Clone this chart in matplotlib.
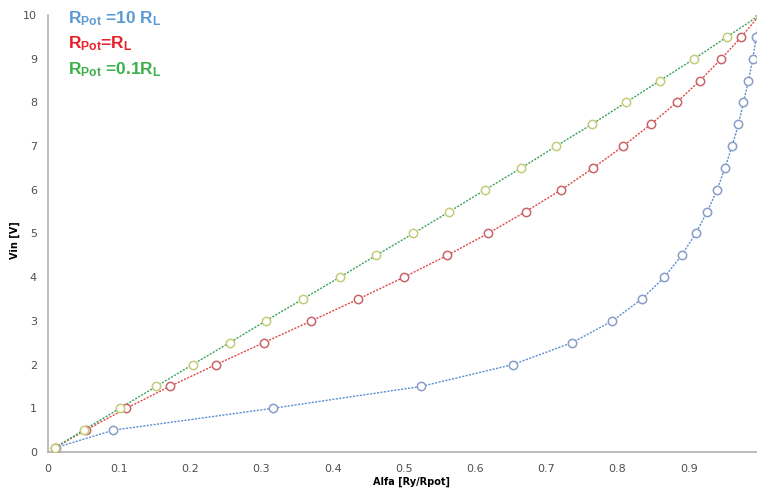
import matplotlib
matplotlib.use("Agg")
from matplotlib import pyplot as plt

# Vin values (same for all three curves)
vin = [0.1, 0.5, 1.0, 1.5, 2.0, 2.5, 3.0, 3.5, 4.0, 4.5, 5.0,
       5.5, 6.0, 6.5, 7.0, 7.5, 8.0, 8.5, 9.0, 9.5, 10.0]
# alfa for each curve
alfa_10 = [0.011, 0.092, 0.316, 0.524, 0.653, 0.736, 0.793, 0.834, 0.866, 0.890, 0.910,
           0.926, 0.940, 0.951, 0.961, 0.970, 0.977, 0.984, 0.990, 0.995, 1.0]
alfa_1 = [0.010, 0.053, 0.110, 0.171, 0.236, 0.303, 0.370, 0.436, 0.500, 0.561, 0.618,
          0.671, 0.721, 0.766, 0.808, 0.847, 0.883, 0.916, 0.946, 0.974, 1.0]
alfa_01 = [0.010, 0.050, 0.101, 0.152, 0.203, 0.255, 0.306, 0.358, 0.410, 0.461, 0.513,
           0.564, 0.614, 0.665, 0.714, 0.764, 0.812, 0.860, 0.908, 0.954, 1.0]

plt.rcParams['mathtext.fontset'] = 'custom'
plt.rcParams['mathtext.bf'] = 'Liberation Sans:bold'
plt.rcParams['mathtext.rm'] = 'Liberation Sans'

fig = plt.figure(figsize=(7.57, 4.88), dpi=100)
ax = fig.add_axes([0.0634, 0.0738, 0.9366, 0.8955])

# series: (x, line colour, marker colour)
series = [(alfa_10, '#5b8fd0', '#8a9cc8'),
          (alfa_1, '#e04848', '#c9646a'),
          (alfa_01, '#3aa35a', '#c4cc7a')]
for x, lc, mc in series:
    ax.plot(x, vin, linestyle=(0, (1.5, 1.0)), color=lc, linewidth=1.0, zorder=2)
    ax.plot(x, vin, linestyle='none', marker='o', markersize=6,
            markerfacecolor='white', markeredgecolor=mc, markeredgewidth=1.1, zorder=3)

ax.set_xlim(0, 0.996)
ax.set_ylim(0, 10)
ax.set_xticks([0, 0.1, 0.2, 0.3, 0.4, 0.5, 0.6, 0.7, 0.8, 0.9])
ax.set_xticklabels(['0', '0.1', '0.2', '0.3', '0.4', '0.5', '0.6', '0.7', '0.8', '0.9'])
ax.set_yticks(range(0, 11))
ax.tick_params(length=0, labelsize=8, labelcolor='#505050')
ax.tick_params(axis='y', pad=8)
ax.tick_params(axis='x', pad=9)
for s in ['top', 'right']:
    ax.spines[s].set_visible(False)
for s in ['left', 'bottom']:
    ax.spines[s].set_color('#b0b0b0')
    ax.spines[s].set_linewidth(1.2)

ax.set_xlabel('Alfa [Ry/Rpot]', fontsize=7, fontweight='bold', va='center')
ax.set_ylabel('Vin [V]', fontsize=7, fontweight='bold', va='center')
ax.xaxis.set_label_coords(0.513, -0.069)
ax.yaxis.set_label_coords(-0.047, 0.485)

fig.text(68 / 757, 1 - 19 / 488, r'$\mathbf{R_{Pot}}$ =10 $\mathbf{R_L}$', color='#5b9bd5',
         fontsize=12.5, fontweight='bold', family='Liberation Sans', va='center', ha='left')
fig.text(68 / 757, 1 - 44 / 488, r'$\mathbf{R_{Pot}}$=$\mathbf{R_L}$', color='#e8202a',
         fontsize=12.5, fontweight='bold', family='Liberation Sans', va='center', ha='left')
fig.text(68 / 757, 1 - 70 / 488, r'$\mathbf{R_{Pot}}$ =0.1$\mathbf{R_L}$', color='#3cb04b',
         fontsize=12.5, fontweight='bold', family='Liberation Sans', va='center', ha='left')

fig.savefig('out.png', dpi=100)
